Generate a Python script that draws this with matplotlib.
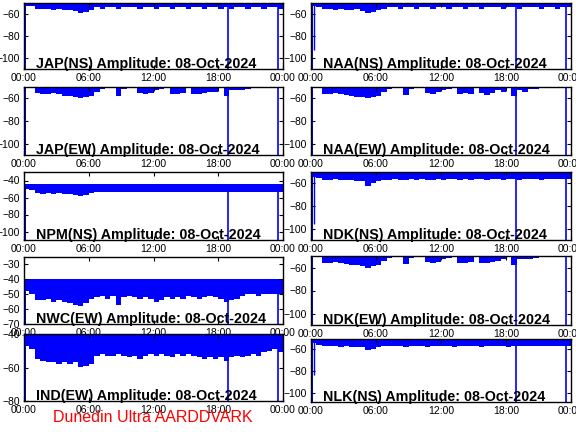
import numpy as np
import matplotlib.pyplot as plt

plt.rcParams['font.family'] = ['Liberation Sans', 'DejaVu Sans']

# half-hour bins over the day (hours)
hours = np.arange(0, 24, 0.5)
tick_hours = [0, 6, 12, 18, 24]
tick_labels = ['00:00', '06:00', '12:00', '18:00', '00:00']

# lower edge of the amplitude trace per half hour (dB)
jap_ns = [-53, -53, -55, -55, -55, -56, -55, -56, -56, -57, -59, -58,
          -56, -54, -55, -54, -54, -55, -54, -54, -54, -55, -54, -54,
          -55, -54, -54, -55, -54, -54, -55, -54, -54, -55, -54, -54,
          -55, -54, -55, -54, -54, -55, -54, -54, -55, -54, -54, -55]
naa_ns = [-53, -54, -55, -55, -56, -55, -56, -56, -55, -57, -59, -58,
          -56, -55, -54, -54, -55, -54, -54, -55, -54, -54, -55, -54,
          -54, -55, -54, -54, -55, -54, -54, -55, -54, -54, -54, -55,
          -54, -54, -55, -54, -54, -54, -55, -54, -54, -55, -54, -54]
jap_ew = [-51, -51, -55, -56, -56, -55, -56, -58, -58, -59, -60, -59,
          -58, -54, -52, -51, -51, -58, -52, -51, -51, -55, -56, -55,
          -53, -52, -51, -56, -56, -55, -51, -56, -56, -55, -54, -54,
          -51, -58, -53, -53, -53, -52, -51, -51, -51, -51, -51, -51]
naa_ew = [-51, -51, -56, -56, -55, -56, -57, -58, -59, -59, -60, -59,
          -58, -54, -52, -51, -51, -57, -52, -51, -51, -55, -56, -54,
          -53, -52, -51, -56, -55, -56, -51, -55, -57, -55, -53, -54,
          -51, -58, -53, -54, -52, -52, -51, -51, -51, -51, -51, -51]
npm_ns = [-50, -51, -55, -56, -55, -56, -55, -56, -56, -57, -58, -57,
          -55, -53, -54, -53, -53, -54, -53, -53, -54, -53, -53, -54,
          -53, -53, -54, -53, -53, -53, -54, -53, -53, -54, -53, -53,
          -53, -54, -53, -53, -54, -53, -53, -53, -54, -53, -53, -53]
ndk_ns = [-54, -55, -57, -57, -56, -57, -57, -57, -58, -58, -62, -60,
          -58, -57, -57, -56, -57, -57, -56, -57, -56, -57, -57, -56,
          -57, -56, -56, -57, -56, -57, -56, -56, -57, -56, -56, -57,
          -56, -56, -57, -56, -56, -56, -57, -56, -56, -56, -56, -56]
nwc_ew = [-48, -50, -54, -54, -53, -55, -54, -55, -56, -57, -58, -56,
          -53, -52, -51, -53, -51, -57, -52, -51, -52, -53, -52, -53,
          -55, -54, -52, -53, -52, -53, -51, -52, -53, -52, -51, -52,
          -53, -55, -54, -53, -51, -50, -50, -51, -50, -50, -50, -50]
ndk_ew = [-51, -51, -56, -56, -55, -56, -57, -58, -58, -59, -60, -59,
          -58, -54, -52, -51, -51, -57, -52, -51, -51, -55, -56, -55,
          -53, -52, -51, -56, -56, -55, -51, -56, -56, -55, -54, -53,
          -51, -58, -53, -53, -53, -52, -51, -51, -51, -51, -51, -51]
ind_ew = [-47, -49, -55, -56, -57, -57, -58, -57, -58, -57, -60, -59,
          -58, -53, -52, -53, -53, -52, -53, -54, -53, -55, -53, -52,
          -53, -52, -53, -54, -52, -53, -52, -53, -54, -55, -54, -55,
          -54, -56, -54, -53, -54, -53, -52, -53, -51, -50, -49, -51]
nlk_ns = [-55, -56, -57, -57, -57, -58, -57, -58, -58, -58, -61, -60,
          -58, -57, -57, -57, -57, -58, -57, -57, -57, -58, -57, -57,
          -57, -57, -58, -57, -57, -57, -57, -58, -57, -57, -57, -57,
          -58, -57, -57, -57, -57, -57, -57, -57, -57, -57, -57, -57]

names = ['JAP(NS)', 'NAA(NS)', 'JAP(EW)', 'NAA(EW)', 'NPM(NS)',
         'NDK(NS)', 'NWC(EW)', 'NDK(EW)', 'IND(EW)', 'NLK(NS)']
lows = [jap_ns, naa_ns, jap_ew, naa_ew, npm_ns,
        ndk_ns, nwc_ew, ndk_ew, ind_ew, nlk_ns]
tops = [-50, -50, -50, -50, -44, -50, -40, -50, -40, -51]
ylims = [(-110, -50), (-110, -50), (-110, -50), (-110, -50), (-110, -30),
         (-110, -50), (-70, -25), (-110, -50), (-80, -40), (-108, -51)]
yticks = [[-100, -80, -60], [-100, -80, -60], [-100, -80, -60],
          [-100, -80, -60], [-100, -80, -60, -40], [-100, -80, -60],
          [-70, -60, -50, -40, -30], [-100, -80, -60], [-80, -60, -40],
          [-100, -80, -60]]
# a short dip just after the start, if any
dips = [None, -93, None, None, None, -96, None, None, None, -84]
# data gaps, where the trace drops to the floor
gap_start = (0.0, 0.2)
gap_lines = [18.9, 23.5]
date = '08-Oct-2024'

# pixel boxes (x0, x1, y0, y1) of each panel
boxes = [(24, 283, 3, 69), (311, 571, 3, 69),
         (24, 283, 87, 155), (311, 571, 87, 155),
         (24, 283, 172, 240), (311, 571, 172, 240),
         (24, 283, 257, 324), (311, 571, 256, 325),
         (24, 283, 334, 401), (311, 571, 339, 402)]

W, H = 576, 432
fig = plt.figure(figsize=(W / 100, H / 100), dpi=100)

for k in range(10):
    x0, x1, y0, y1 = boxes[k]
    ax = fig.add_axes([x0 / W, 1 - y1 / H, (x1 - x0) / W, (y1 - y0) / H])
    lo, hi = ylims[k]
    edges = np.append(hours, 24)
    low = np.append(lows[k], lows[k][-1])
    ax.fill_between(edges, tops[k], low, step='post', color='blue', lw=0)
    ax.fill_betweenx([lo, tops[k]], gap_start[0], gap_start[1],
                     color='blue', lw=0)
    ax.vlines(gap_lines, lo, tops[k], color='blue', lw=1.2)
    if dips[k] is not None:
        ax.vlines([0.28], dips[k], tops[k], color='blue', lw=1)
    ax.set_xlim(0, 24)
    ax.set_ylim(lo, hi)
    ax.set_xticks(tick_hours)
    ax.set_xticklabels(tick_labels)
    ax.set_yticks(yticks[k])
    ax.tick_params(direction='in', length=3, top=True, right=True,
                   labelsize=7.5, pad=3, width=0.8)
    for s in ax.spines.values():
        s.set_linewidth(1)
    ax.text(0.046, 0.02, names[k] + ' Amplitude: ' + date,
            transform=ax.transAxes, fontsize=10.3, fontweight='bold',
            ha='left', va='baseline')

fig.text(53 / W, 9.5 / H, 'Dunedin Ultra AARDDVARK', color='red',
         fontsize=11.5, ha='left', va='baseline')

fig.savefig('out.png', dpi=100)
